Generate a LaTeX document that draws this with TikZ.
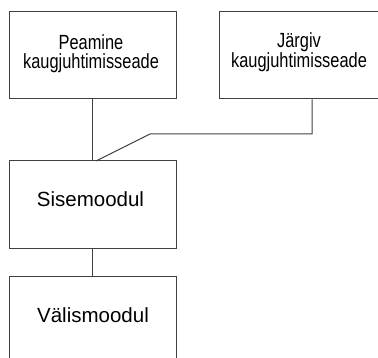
\documentclass[tikz,border=0pt]{standalone}
\usepackage{fontspec}
\setmainfont{Liberation Sans}
\newfontfamily\narrowfont[FakeStretch=0.8]{Liberation Sans}
\usepackage{tikz}

\begin{document}
\begin{tikzpicture}[x=1pt,y=-1pt,
  every node/.style={font=\fontsize{20.5}{19}\selectfont,inner sep=0pt},
  box/.style={draw=black!75,line width=1pt,minimum width=167pt,minimum height=88pt},
  ln/.style={draw=black!75,line width=1pt},
  nar/.style={font=\narrowfont\fontsize{20.5}{19}\selectfont,align=center}]
\clip (0,0) rectangle (378,358);
%------------- top row: remote controls
\node[box,minimum height=87pt] (peamine) at (92.5,55.5) {};
\node[nar,anchor=base] (peatxt) at (91,69) {Peamine\\kaugjuhtimisseade};
\node[box,minimum width=162pt,minimum height=87pt] (jargiv) at (300,55.5) {};
\node[nar,anchor=base] (jartxt) at (299,67.5) {Järgiv\\kaugjuhtimisseade};
%------------- modules
\node[box] (sise) at (92.5,205) {};
\node[anchor=base] (sisetxt) at (90.5,206.7) {Sisemoodul};
\node[box] (valis) at (92.5,321) {};
\node[anchor=base] (valistxt) at (93,322.7) {Välismoodul};
%------------- connectors
\coordinate (j1) at (312,134); \coordinate (j2) at (150,134);
\coordinate (s1) at (96,161);
\draw[ln] (peamine.south) -- (sise.north);
\draw[ln] (jargiv.south -| j1) -- (j1) -- (j2) -- (s1);
\draw[ln] (sise.south) -- (valis.north);
\end{tikzpicture}
\end{document}
